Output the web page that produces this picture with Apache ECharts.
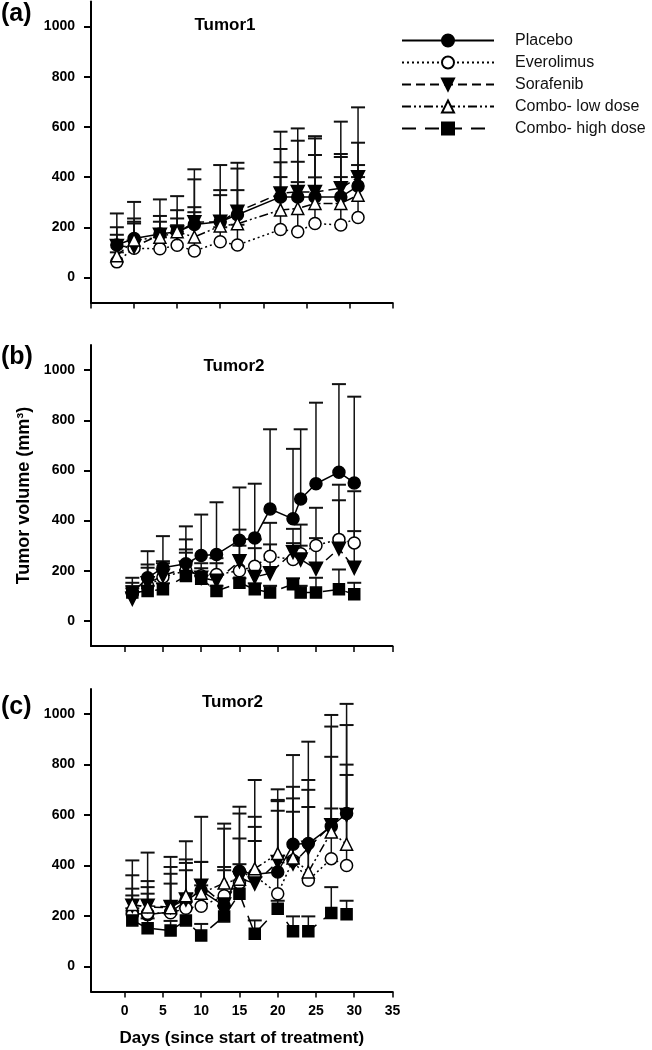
<!DOCTYPE html>
<html><head><meta charset="utf-8">
<script src="https://cdn.jsdelivr.net/npm/echarts@6/dist/echarts.min.js"></script>
<style>html,body{margin:0;padding:0;background:#fff}#c{width:652px;height:1050px}</style>
</head><body><div id="c"></div><script>
const seriesNames = ['Placebo','Everolimus','Sorafenib','Combo- low dose','Combo- high dose'];
const yTicks = [0,200,400,600,800,1000];
const xTicks = [0,5,10,15,20,25,30,35];
const panelTitles = ['Tumor1','Tumor2','Tumor2'];
const panelLetters = ['(a)','(b)','(c)'];
const xAxisName = 'Days (since start of treatment)';
const yAxisName = 'Tumor volume (mm³)';

// Panel (a) Tumor1 : mean values and mean+SD (top of error bar)
const daysA = [3,5,8,10,12,15,17,22,24,26,29,31];
const placeboA = [129,155,173,182,211,222,250,321,321,321,321,364];
const placeboA_hi = [255,301,311,324,431,448,457,581,594,563,621,678];
const everoA = [62,116,114,128,105,142,129,191,182,215,209,239];
const everoA_hi = [100,215,160,208,260,200,210,400,380,399,400,400];
const sorafA = [125,122,170,178,220,222,262,335,341,341,355,399];
const sorafA_hi = [200,235,245,268,391,348,434,512,545,554,492,537];
const lowA = [86,149,160,182,161,205,214,269,275,295,295,328];
const lowA_hi = [170,222,222,235,280,328,348,459,461,488,480,448];

// Panel (b) Tumor2
const daysB = [1,3,5,8,10,12,15,17,19,22,23,25,28,30];
const placeboB = [112,172,212,228,261,265,322,331,446,407,486,547,593,550];
const placeboB_hi = [172,278,338,377,424,473,532,547,764,686,764,870,944,894];
const everoB = [110,140,175,200,180,185,200,218,258,245,268,301,325,311];
const everoB_hi = [139,212,230,285,210,230,300,290,305,310,300,330,481,358];
const sorafB = [88,150,180,212,172,160,238,175,190,274,245,208,288,212];
const sorafB_hi = [152,225,238,325,230,250,364,325,391,367,384,451,543,517];
const highB = [113,119,126,179,168,119,152,126,113,146,113,113,126,106];
const highB_hi = [130,140,150,272,180,140,170,150,140,170,140,172,205,152];

// Panel (c) Tumor2
const daysC = [1,3,6,8,10,13,15,17,20,22,24,27,29];
const placeboC = [210,205,215,260,300,240,377,365,374,484,487,555,606];
const placeboC_hi = [420,451,434,496,593,566,633,739,702,838,891,997,1041];
const everoC = [205,210,212,230,238,280,330,360,288,420,341,427,400];
const everoC_hi = [281,288,328,381,321,381,507,497,617,613,632,626,759];
const sorafC = [240,240,235,265,320,245,350,328,414,407,470,560,600];
const sorafC_hi = [361,338,394,424,414,546,606,593,655,712,739,951,957];
const lowC = [245,235,232,280,290,330,345,387,447,430,374,533,484];
const lowC_hi = [308,314,367,410,414,394,405,553,660,666,700,831,800];
const highC = [182,151,142,182,122,198,288,129,228,139,139,211,206];
const highC_hi = [230,190,180,230,168,240,340,182,260,198,198,314,260];

// Significance marks in panel (b)
const sigText = ['*','*','* #'];
const sigY = [348,232,94];

const FONT = "'Liberation Sans', Arial, sans-serif";
const styles = {
  'Placebo':         {symbol:'circle', fill:'#000', line:'solid'},
  'Everolimus':      {symbol:'circle', fill:'#fff', line:[2,3]},
  'Sorafenib':       {symbol:'path://M0,0 L10,0 L5,9 Z', fill:'#000', line:[9,5]},
  'Combo- low dose': {symbol:'triangle', fill:'#fff', line:[9,3,2,3,2,3]},
  'Combo- high dose':{symbol:'rect', fill:'#000', line:[14,9]}
};

const grids = [
  {left:91, top:1.5, width:301.5, height:301},
  {left:91, top:345, width:301.5, height:301},
  {left:91, top:689, width:301.5, height:302.5}
];
const xRanges = [[0,35],[-4.4,35],[-4.4,35]];

const xAxes = grids.map((g,i)=>({
  gridIndex:i, type:'value', min:xRanges[i][0], max:xRanges[i][1],
  axisLine:{onZero:false, lineStyle:{color:'#000', width:2}},
  axisTick:{customValues:xTicks, length:6, lineStyle:{color:'#000', width:1.5}},
  axisLabel:{show:i===2, customValues:xTicks, formatter:v=>String(v), color:'#000', fontFamily:FONT, fontWeight:'bold', fontSize:14, margin:13},
  splitLine:{show:false},
  name: i===2 ? xAxisName : '', nameLocation:'middle', nameGap:38,
  nameTextStyle:{color:'#000', fontFamily:FONT, fontWeight:'bold', fontSize:17}
}));
const yAxes = grids.map((g,i)=>({
  gridIndex:i, type:'value', min:-100, max:1100,
  axisLine:{onZero:false, lineStyle:{color:'#000', width:2}},
  axisTick:{customValues:yTicks, length:7, lineStyle:{color:'#000', width:2}},
  axisLabel:{customValues:yTicks, formatter:v=>String(v), color:'#000', fontFamily:FONT, fontWeight:'bold', fontSize:14, margin:16},
  splitLine:{show:false},
  name: i===1 ? yAxisName : '', nameLocation:'middle', nameGap:58, nameRotate:90,
  nameTextStyle:{color:'#000', fontFamily:FONT, fontWeight:'bold', fontSize:18}
}));

const panels = [
  {days:daysA, sets:[['Placebo',placeboA,placeboA_hi],['Everolimus',everoA,everoA_hi],['Sorafenib',sorafA,sorafA_hi],['Combo- low dose',lowA,lowA_hi]]},
  {days:daysB, sets:[['Placebo',placeboB,placeboB_hi],['Everolimus',everoB,everoB_hi],['Sorafenib',sorafB,sorafB_hi],['Combo- high dose',highB,highB_hi]]},
  {days:daysC, sets:[['Placebo',placeboC,placeboC_hi],['Everolimus',everoC,everoC_hi],['Sorafenib',sorafC,sorafC_hi],['Combo- low dose',lowC,lowC_hi],['Combo- high dose',highC,highC_hi]]}
];

const series = [];
panels.forEach((p,gi)=>{
  p.sets.forEach(([name,mean,hi])=>{
    series.push({
      type:'custom', name:name+' SD', xAxisIndex:gi, yAxisIndex:gi, z:1, silent:true,
      data:p.days.map((d,k)=>[d,mean[k],hi[k]]),
      renderItem:(params,api)=>{
        const a = api.coord([api.value(0), api.value(1)]);
        const b = api.coord([api.value(0), api.value(2)]);
        return {type:'group', children:[
          {type:'line', shape:{x1:a[0],y1:a[1],x2:b[0],y2:b[1]}, style:{stroke:'#111', lineWidth:1.5}},
          {type:'line', shape:{x1:b[0]-7,y1:b[1],x2:b[0]+7,y2:b[1]}, style:{stroke:'#111', lineWidth:2}}
        ]};
      }
    });
  });
  p.sets.forEach(([name,mean])=>{
    const s = styles[name];
    series.push({
      type:'line', name:name, xAxisIndex:gi, yAxisIndex:gi, z:3,
      data:p.days.map((d,k)=>[d,mean[k]]),
      symbol:s.symbol, symbolSize: name==='Combo- high dose'?11:(name==='Sorafenib'?13:12),
      showAllSymbol:true,
      lineStyle:{color:'#000', width:1.5, type:s.line},
      itemStyle:{color:s.fill, borderColor:'#000', borderWidth:1.5, opacity:1},
      emphasis:{disabled:true}, animation:false
    });
  });
});

const graphics = [];
const titleCenters = [[225,25],[234,366],[232.5,702]];
const letterCenters = [14,357,707];
panelTitles.forEach((t,i)=>{
  graphics.push({type:'text', style:{x:titleCenters[i][0], y:titleCenters[i][1], text:t, font:"bold 17px "+FONT, fill:'#000', textAlign:'center', textVerticalAlign:'middle'}});
  graphics.push({type:'text', style:{x:1, y:letterCenters[i], text:panelLetters[i], font:"bold 25px "+FONT, fill:'#000', textAlign:'left', textVerticalAlign:'middle'}});
});

const chart = echarts.init(document.getElementById('c'), null, {renderer:'canvas'});
chart.setOption({
  backgroundColor:'#fff',
  animation:false,
  grid:grids,
  xAxis:xAxes,
  yAxis:yAxes,
  legend:{
    data:seriesNames, orient:'vertical', left:401, top:32.5, padding:0,
    itemWidth:92, itemHeight:15, itemGap:6, selectedMode:false,
    textStyle:{color:'#111', fontFamily:FONT, fontSize:16, padding:[0,0,0,16]}
  },
  series:series.concat([{
    type:'scatter', name:'sig', xAxisIndex:1, yAxisIndex:1, symbol:'none', silent:true,
    data:sigY.map((v,k)=>({value:[33.5,v], label:{show:true, formatter:sigText[k], position:'right', distance:0, color:'#000', fontFamily:FONT, fontSize:17}}))
  }]),
  graphic:graphics
});
</script></body></html>
